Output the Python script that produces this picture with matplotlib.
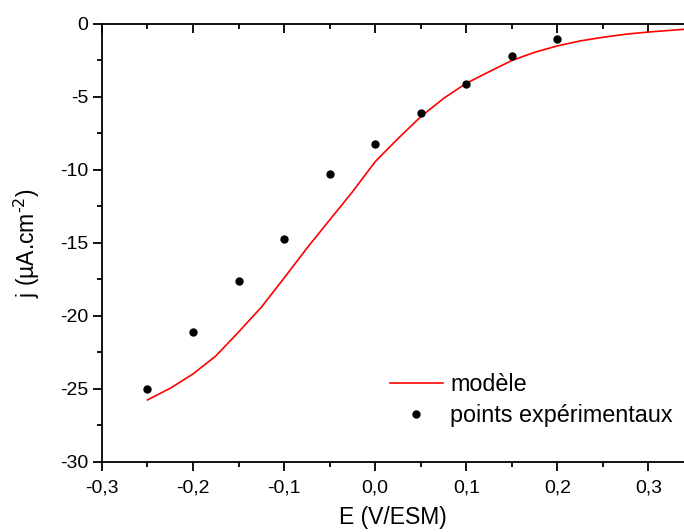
import numpy as np
import matplotlib
matplotlib.use("Agg")
import matplotlib.pyplot as plt
from matplotlib.ticker import MultipleLocator, FuncFormatter

plt.rcParams['font.family'] = ['Liberation Sans', 'DejaVu Sans']

# points expérimentaux
E_exp = [-0.25, -0.20, -0.15, -0.10, -0.05, 0.00, 0.05, 0.10, 0.15, 0.20]
j_exp = [-25.0, -21.1, -17.6, -14.7, -10.3, -8.2, -6.1, -4.1, -2.2, -1.05]

# modèle
E_mod = [-0.25, -0.225, -0.20, -0.175, -0.15, -0.125, -0.10, -0.075, -0.05,
         -0.025, 0.0, 0.025, 0.05, 0.075, 0.10, 0.125, 0.15, 0.175, 0.20,
         0.225, 0.25, 0.275, 0.30, 0.34]
j_mod = [-25.75, -24.95, -23.97, -22.74, -21.1, -19.4, -17.4, -15.36, -13.42,
         -11.5, -9.43, -7.85, -6.35, -5.1, -4.06, -3.27, -2.5, -1.94, -1.5,
         -1.16, -0.91, -0.7, -0.55, -0.36]

fig = plt.figure(figsize=(6.84, 5.32), dpi=100)
ax = fig.add_axes([0.149, 0.1316, 0.851, 0.8233])

ax.plot(E_mod, j_mod, color='red', lw=1.2, label='modèle')
ax.plot(E_exp, j_exp, 'o', color='black', ms=5, label='points expérimentaux')

ax.set_xlim(-0.3, 0.339)
ax.set_ylim(-30, 0)

ax.xaxis.set_major_locator(MultipleLocator(0.1))
ax.xaxis.set_minor_locator(MultipleLocator(0.05))
ax.yaxis.set_major_locator(MultipleLocator(5))
ax.yaxis.set_minor_locator(MultipleLocator(2.5))
ax.xaxis.set_major_formatter(FuncFormatter(lambda v, p: f"{v:.1f}".replace('.', ',').replace('-0,0', '0,0')))
ax.yaxis.set_major_formatter(FuncFormatter(lambda v, p: "0" if abs(v) < 1e-9 else f"{v:.0f}"))

ax.spines['right'].set_visible(False)
for s in ['left', 'bottom', 'top']:
    ax.spines[s].set_linewidth(1.3)

ax.tick_params(axis='both', which='major', direction='out', length=6.5, width=1.3, labelsize=14)
ax.tick_params(axis='both', which='minor', direction='out', length=3.5, width=1.3)
ax.tick_params(axis='x', which='major', pad=6)
ax.tick_params(axis='x', which='both', top=True, labeltop=False)
# top ticks point inward
for t in ax.xaxis.get_major_ticks() + ax.xaxis.get_minor_ticks():
    t.tick2line.set_marker(3)

ax.set_xlabel('E (V/ESM)', fontsize=16.5, labelpad=7)
ax.set_ylabel('j (µA.cm$^{\\text{-2}}$)', fontsize=16.5, labelpad=13)

ax.legend(loc='lower right', bbox_to_anchor=(0.981, 0.08), frameon=False, fontsize=16.8,
          borderpad=0, borderaxespad=0,
          handlelength=2.3, handletextpad=0.3, labelspacing=0.33, numpoints=1)

fig.savefig('out.png', dpi=100)
